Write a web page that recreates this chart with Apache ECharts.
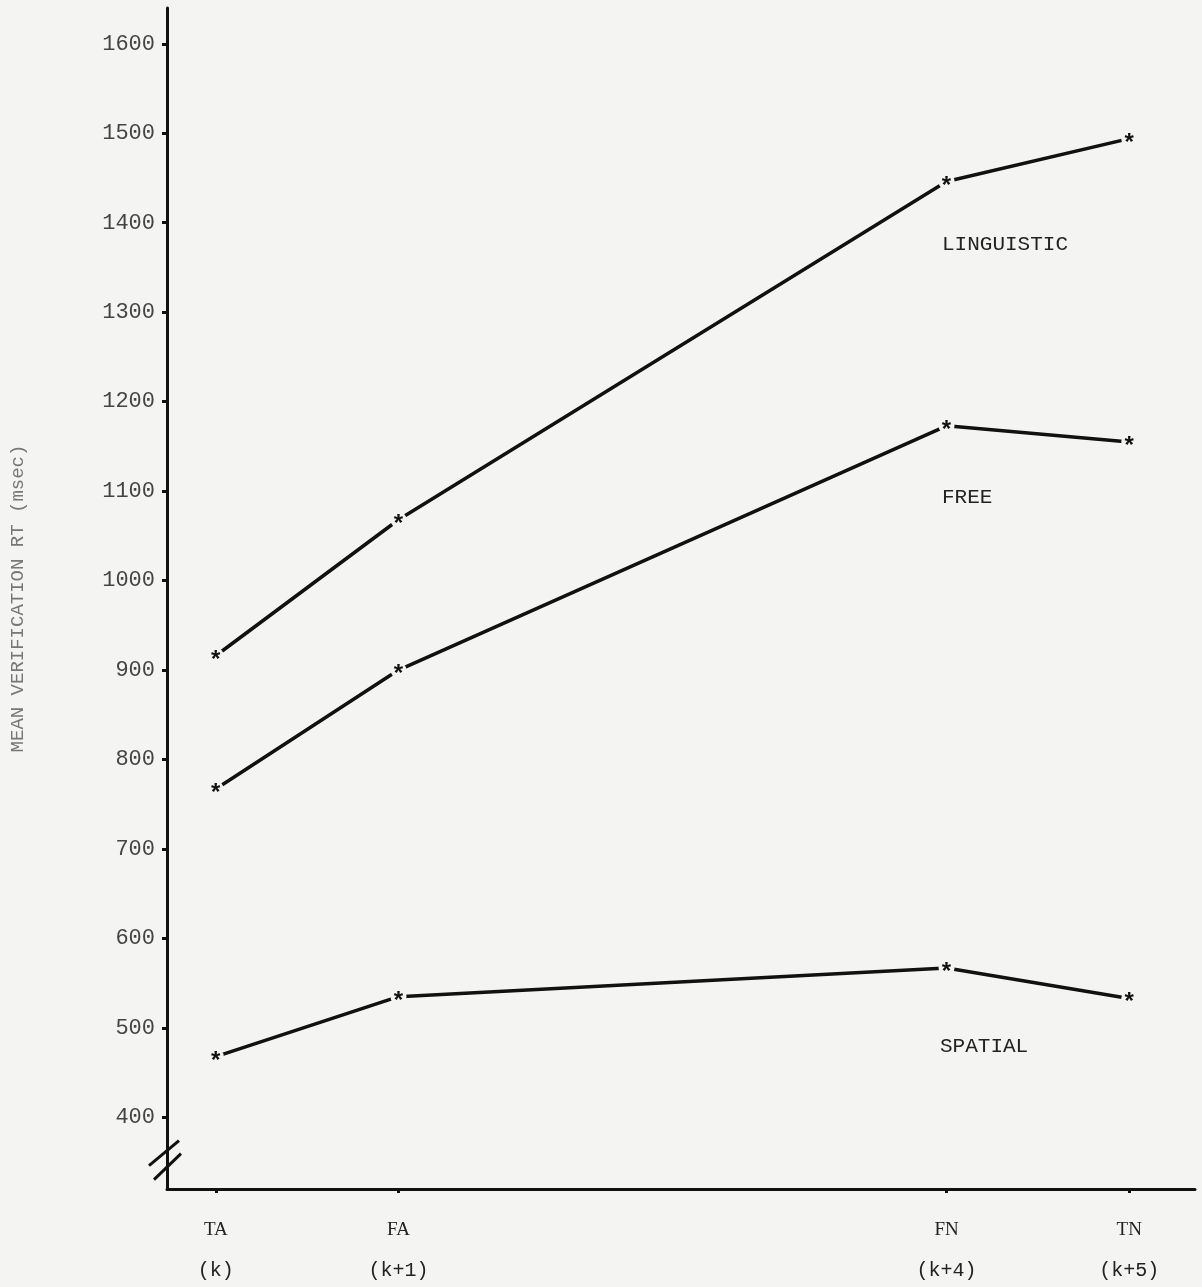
<!DOCTYPE html>
<html><head><meta charset="utf-8">
<script src="https://cdn.jsdelivr.net/npm/echarts@6/dist/echarts.min.js"></script>
<style>html,body{margin:0;padding:0;background:#f4f4f2;}#c{width:1202px;height:1287px;}</style>
</head><body><div id="c"></div>
<script>
const xPositions = [0, 1, 4, 5];
const xNames = ['TA', 'FA', 'FN', 'TN'];
const xSubNames = ['(k)', '(k+1)', '(k+4)', '(k+5)'];
const yTicks = [400, 500, 600, 700, 800, 900, 1000, 1100, 1200, 1300, 1400, 1500, 1600];
const linguistic = [916, 1068, 1446, 1494];
const free = [767, 900, 1173, 1155];
const spatial = [468, 535, 567, 533];
const seriesNames = ['LINGUISTIC', 'FREE', 'SPATIAL'];

const bg = '#f4f4f2';
const chart = echarts.init(document.getElementById('c'));
function mk(name, vals) {
  return {
    name, type: 'line',
    data: xPositions.map((x, i) => [x, vals[i]]),
    lineStyle: { color: '#111', width: 3.5 },
    symbol: 'circle', symbolSize: 16,
    itemStyle: { color: bg, borderWidth: 0 },
    label: { show: true, formatter: '*', position: 'inside', fontSize: 24, fontWeight: 'bold',
             fontFamily: 'Liberation Mono', color: '#111', offset: [0, 6] },
    emphasis: { disabled: true }, silent: true, z: 3
  };
}
chart.setOption({
  backgroundColor: bg,
  animation: false,
  grid: { left: 166, top: 8, width: 1029, height: 1181, containLabel: false },
  xAxis: {
    type: 'value', min: -0.267, max: 5.36,
    axisLine: { onZero: false, lineStyle: { color: '#111', width: 3 } },
    splitLine: { show: false },
    axisTick: { show: true, customValues: xPositions, length: 4, lineStyle: { color: '#111', width: 3 } },
    axisLabel: {
      customValues: xPositions, margin: 20,
      formatter: v => { const i = xPositions.indexOf(v); return i < 0 ? '' : '{a|' + xNames[i] + '}\n{b|' + xSubNames[i] + '}'; },
      rich: {
        a: { fontFamily: 'Liberation Serif', fontSize: 19, color: '#222', lineHeight: 42 },
        b: { fontFamily: 'Liberation Mono', fontSize: 20, color: '#222', lineHeight: 40 }
      }
    }
  },
  yAxis: {
    type: 'value', min: 320, max: 1640,
    name: 'MEAN VERIFICATION RT (msec)', nameLocation: 'middle', nameRotate: 90, nameGap: 140,
    nameTextStyle: { fontFamily: 'Liberation Mono', fontSize: 19, color: '#777' },
    axisLine: { show: true, onZero: false, lineStyle: { color: '#111', width: 3 } },
    splitLine: { show: false },
    axisTick: { show: true, customValues: yTicks, length: 5, lineStyle: { color: '#111', width: 3 } },
    axisLabel: { customValues: yTicks, margin: 12, fontFamily: 'Liberation Mono', fontSize: 22, color: '#444',
                 formatter: v => String(v) }
  },
  series: [mk(seriesNames[0], linguistic), mk(seriesNames[1], free), mk(seriesNames[2], spatial)]
});

// annotations and axis-break marks
const ax = chart.convertToPixel({ gridIndex: 0 }, [-0.267, 355]);
chart.setOption({
  graphic: [
    { type: 'text', left: 942, top: 234, style: { text: seriesNames[0], font: '21px "Liberation Mono"', fill: '#222' } },
    { type: 'text', left: 942, top: 487, style: { text: seriesNames[1], font: '21px "Liberation Mono"', fill: '#222' } },
    { type: 'text', left: 940, top: 1036, style: { text: seriesNames[2], font: '21px "Liberation Mono"', fill: '#222' } },
    { type: 'line', shape: { x1: ax[0] - 18, y1: ax[1] + 8, x2: ax[0] + 12, y2: ax[1] - 17 }, style: { stroke: '#111', lineWidth: 3 } },
    { type: 'line', shape: { x1: ax[0] - 13, y1: ax[1] + 22, x2: ax[0] + 14, y2: ax[1] - 4 }, style: { stroke: '#111', lineWidth: 3 } }
  ]
});
</script></body></html>
